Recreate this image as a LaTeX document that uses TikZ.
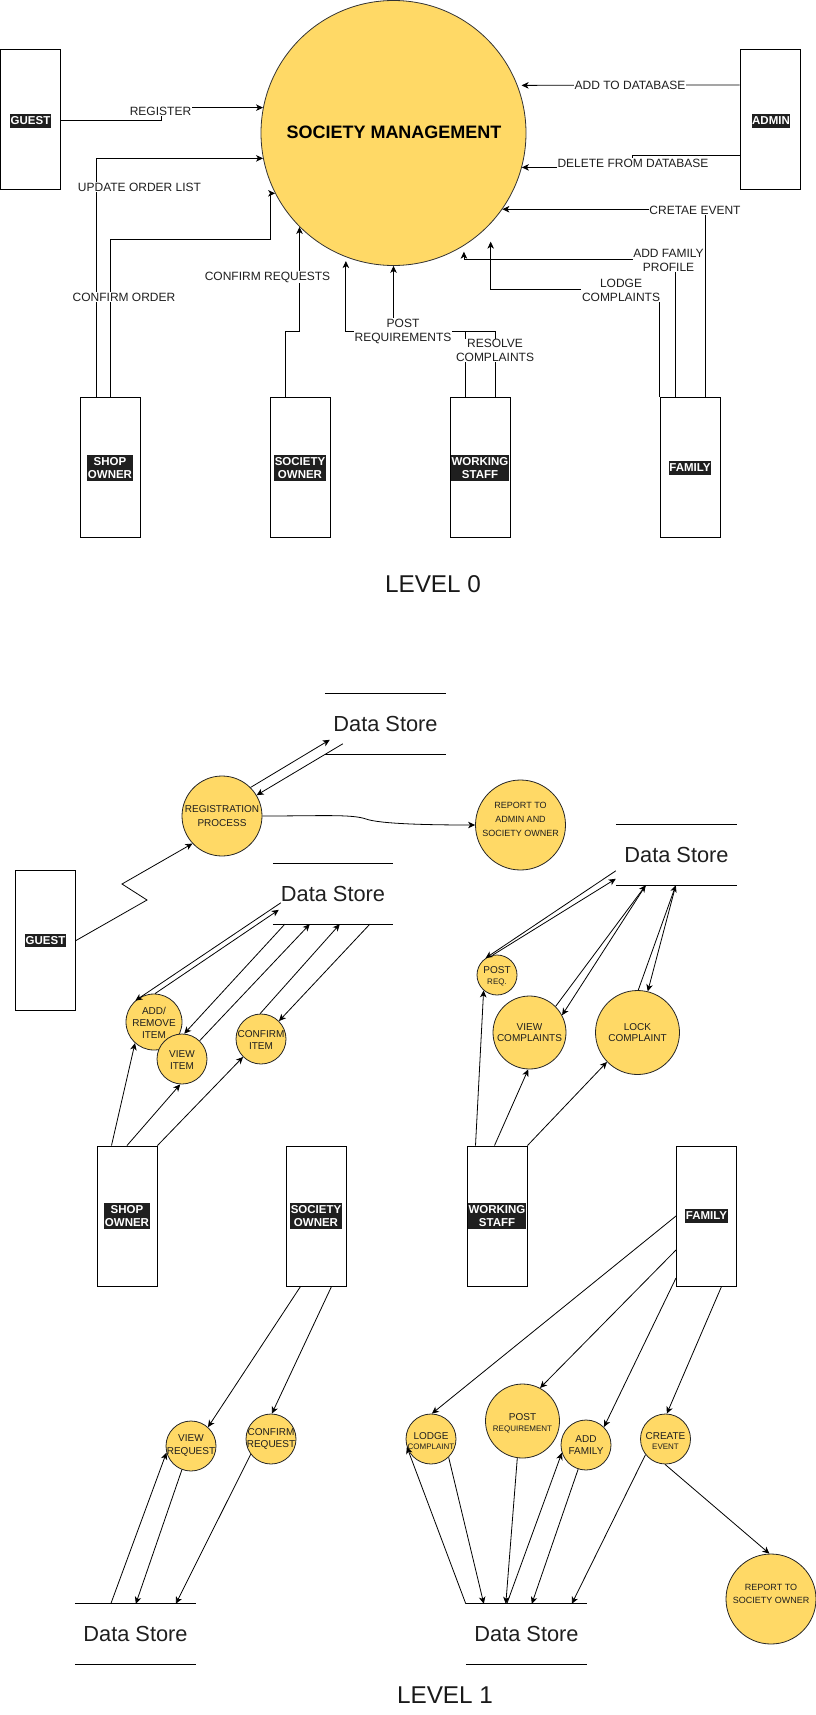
\documentclass[tikz,border=0pt]{standalone}
\usepackage{fontspec}
\setmainfont{Liberation Sans}
\usetikzlibrary{arrows.meta,calc}
\definecolor{procyellow}{HTML}{FFD966}
\definecolor{txtgray}{HTML}{1F1F1F}
\begin{document}
\begin{tikzpicture}[x=1pt,y=-1pt,
  every node/.style={font=\fontsize{12}{14}\selectfont},
  ent/.style={draw, line width=1pt, minimum width=60pt, minimum height=140pt, inner sep=0pt},
  hl/.style={fill=black!88, text=white, inner xsep=0.6pt, inner ysep=2.6pt, align=center, font=\bfseries\fontsize{11.5}{13.5}\selectfont},
  proc/.style={circle, draw=black!85, line width=0.8pt, fill=procyellow, inner sep=0pt},
  ptext/.style={text=txtgray, align=center, inner sep=0pt, font=\fontsize{10}{12}\selectfont},
  lbl/.style={fill=white, inner sep=0.6pt, text=txtgray, align=center, font=\fontsize{12}{14}\selectfont},
  arr/.style={line width=0.8pt, -{Stealth[length=7pt,width=6.5pt,inset=2pt]}},
  ln/.style={line width=0.9pt},
  dstore/.style={minimum width=121pt, minimum height=60pt, inner sep=0pt, text=black!88, font=\fontsize{21.8}{24}\selectfont},
  lvl/.style={inner sep=0pt, text=black!90, font=\fontsize{24.3}{26}\selectfont},
]
\useasboundingbox (0,0) rectangle (816,1715);

% ================= LEVEL 0 =================
\node[circle, draw=black!80, line width=0.8pt, fill=procyellow, minimum size=265pt, inner sep=0pt] (sm) at (393.5,133) {};
\node[inner sep=0pt, font=\bfseries\fontsize{18}{20}\selectfont] (smt) at (394,132) {SOCIETY MANAGEMENT};

\node[ent] (guest0) at (30.5,120) {};
\node[hl] (guest0t) at (30.5,121) {GUEST};
\node[ent] (admin0) at (770,120) {};
\node[hl] (admin0t) at (771,121) {ADMIN};
\node[ent] (shop0) at (110,467) {};
\node[hl] (shop0t) at (110,468) {SHOP\\OWNER};
\node[ent] (soc0) at (300,467) {};
\node[hl] (soc0t) at (300,468) {SOCIETY\\OWNER};
\node[ent] (staff0) at (480,467) {};
\node[hl] (staff0t) at (480,468) {WORKING\\STAFF};
\node[ent] (fam0) at (690,467) {};
\node[hl] (fam0t) at (690,468) {FAMILY};

\draw[arr] (guest0.east) -- ++(100,0) |- (sm.169);
\draw[arr] ([xshift=-14pt]shop0.north) |- (sm.191);
\draw[arr] (shop0.north) -- ++(0,-157) -- ++(160,0) |- (sm.207);
\draw[arr] ([xshift=-15pt]soc0.north) -- ++(0,-65) -| (sm.225);
\draw[arr] ([xshift=-15pt]staff0.north) -- ++(0,-65) -| ([yshift=-4pt]sm.249);
\draw[arr] ([xshift=15pt]staff0.north) -- ++(0,-65) -| (sm.south);
\draw[arr] ([yshift=35pt]admin0.west) -- ([xshift=4pt]sm.21);
\draw[arr] ([yshift=-35pt]admin0.west) -- ++(-107,0) |- (sm.345);
\draw[arr] ([xshift=15pt]fam0.north) |- (sm.325);
\draw[arr] ([xshift=-15pt]fam0.north) -- ++(0,-137) -| ([yshift=-6pt]sm.302);
\draw[arr] (fam0.north west) -- ++(0,-107) -| ([yshift=-18pt]sm.317);

\node[lbl] (l0a) at (160.5,111.5) {REGISTER};
\node[lbl] (l0b) at (139.5,187) {UPDATE ORDER LIST};
\node[lbl] (l0c) at (124,297) {CONFIRM ORDER};
\node[lbl] (l0d) at (267.5,277) {CONFIRM REQUESTS};
\node[lbl] (l0e) at (403,331) {POST\\REQUIREMENTS};
\node[lbl] (l0f) at (495,350.5) {RESOLVE\\COMPLAINTS};
\node[lbl] (l0g) at (630,85) {ADD TO DATABASE};
\node[lbl] (l0h) at (633,163) {DELETE FROM DATABASE};
\node[lbl] (l0i) at (695,210.5) {CRETAE EVENT};
\node[lbl] (l0j) at (668.5,260) {ADD FAMILY\\PROFILE};
\node[lbl] (l0k) at (621,290) {LODGE\\COMPLAINTS};

\node[lvl] (lev0) at (433,584) {LEVEL 0};

% ================= LEVEL 1 =================
% data stores
\node[dstore] (ds1) at (385.5,724) {Data Store};
\node[dstore, minimum width=120pt] (ds2) at (333,894) {Data Store};
\node[dstore] (ds3) at (676.5,855) {Data Store};
\node[dstore] (ds4) at (135.5,1634) {Data Store};
\node[dstore] (ds5) at (526.5,1634) {Data Store};
\foreach \d in {ds1,ds2,ds3,ds4,ds5}{
  \draw[ln] (\d.north west) -- (\d.north east);
  \draw[ln] (\d.south west) -- (\d.south east);
}

% entities
\node[ent] (guest1) at (45.5,940.5) {};
\node[hl] (guest1t) at (45.5,940.5) {GUEST};
\node[ent] (shop1) at (127,1216) {};
\node[hl] (shop1t) at (127,1216) {SHOP\\OWNER};
\node[ent] (soc1) at (316,1216) {};
\node[hl] (soc1t) at (316,1216) {SOCIETY\\OWNER};
\node[ent] (staff1) at (497,1216) {};
\node[hl] (staff1t) at (497,1216) {WORKING\\STAFF};
\node[ent] (fam1) at (706.5,1216) {};
\node[hl] (fam1t) at (706.5,1216) {FAMILY};

% processes
\node[proc, minimum size=80pt] (reg) at (222,816) {};
\node[ptext, font=\fontsize{10}{14}\selectfont] (regt) at (222,816) {REGISTRATION\\PROCESS};
\node[proc, minimum size=90pt] (rep1) at (520.5,825) {};
\node[ptext, font=\fontsize{9}{13.7}\selectfont] (rep1t) at (520.5,819.5) {REPORT TO\\ADMIN AND\\SOCIETY OWNER};
\node[proc, minimum size=56pt] (addrem) at (154,1022) {};
\node[ptext] (addremt) at (154,1023) {ADD/\\REMOVE\\ITEM};
\node[proc, minimum size=50pt] (viewitem) at (182,1059) {};
\node[ptext] (viewitemt) at (182,1060) {VIEW\\ITEM};
\node[proc, minimum size=50pt] (confitem) at (261,1039) {};
\node[ptext] (confitemt) at (261,1040) {CONFIRM\\ITEM};
\node[proc, minimum size=40pt] (postreq) at (497,975) {};
\node[ptext, font=\fontsize{10}{10.5}\selectfont] (postreqt) at (497,976.5) {POST\\{\fontsize{8}{9}\selectfont REQ.}};
\node[proc, minimum size=73pt] (viewcomp) at (529.5,1032.5) {};
\node[ptext, font=\fontsize{10}{11.7}\selectfont] (viewcompt) at (529.5,1032.5) {VIEW\\COMPLAINTS};
\node[proc, minimum size=84pt] (lockcomp) at (637.5,1032.5) {};
\node[ptext, font=\fontsize{10}{11.7}\selectfont] (lockcompt) at (637.5,1032.5) {LOCK\\COMPLAINT};
\node[proc, minimum size=50pt] (viewreq) at (191,1446) {};
\node[ptext, font=\fontsize{10}{13}\selectfont] (viewreqt) at (191,1445.5) {VIEW\\REQUEST};
\node[proc, minimum size=50pt] (confreq) at (271,1439) {};
\node[ptext] (confreqt) at (271,1439) {CONFIRM\\REQUEST};
\node[proc, minimum size=50pt] (lodge) at (431,1439) {};
\node[ptext, font=\fontsize{10}{10.5}\selectfont] (lodget) at (431,1441) {LODGE\\{\fontsize{8}{9}\selectfont COMPLAINT}};
\node[proc, minimum size=74pt] (postreqm) at (522.5,1421) {};
\node[ptext, font=\fontsize{10}{10.5}\selectfont] (postreqmt) at (522.5,1423) {POST\\{\fontsize{8}{9}\selectfont REQUIREMENT}};
\node[proc, minimum size=50pt] (addfam) at (586,1445) {};
\node[ptext] (addfamt) at (586,1445) {ADD\\FAMILY};
\node[proc, minimum size=50pt] (create) at (665.5,1439) {};
\node[ptext, font=\fontsize{10}{10.5}\selectfont] (createt) at (665.5,1441) {CREATE\\{\fontsize{8}{9}\selectfont EVENT}};
\node[proc, minimum size=90pt] (rep2) at (771,1599) {};
\node[ptext, font=\fontsize{9}{13}\selectfont] (rep2t) at (771,1593.5) {REPORT TO\\SOCIETY OWNER};

% registration flows
\draw[arr] (reg.45) -- ([xshift=5pt,yshift=-46pt]ds1.north west);
\draw[arr] ([xshift=18pt,yshift=-50pt]ds1.north west) -- (reg.31);
\draw[arr] (reg.east) .. controls (320,816) and (352,814) .. (366,819) .. controls (380,824) and (430,825) .. (rep1.west);
\draw[arr] (guest1.east) -- ++(71,-40.5) -- ++(-25,-16) -- (reg.223);

% shop owner flows
\draw[arr] ([xshift=8pt,yshift=-39pt]ds2.north west) -- (addrem.131);
\draw[arr] (addrem.88) -- ([xshift=6pt,yshift=-46pt]ds2.north west);
\draw[arr] ([xshift=12pt]ds2.south west) -- (viewitem.85);
\draw[arr] (viewitem.46) -- ([xshift=37pt]ds2.south west);
\draw[arr] (confitem.92) -- ([xshift=67pt]ds2.south west);
\draw[arr] ([xshift=97pt]ds2.south west) -- (confitem.45);
\draw[arr] ([xshift=15pt]shop1.north west) -- (addrem.228);
\draw[arr] (shop1.north) -- (viewitem.266);
\draw[arr] (shop1.north east) -- (confitem.225);

% working staff flows
\draw[arr] ([yshift=-46pt]ds3.north west) -- (postreq.124);
\draw[arr] (postreq.102) -- ([yshift=-54pt]ds3.north west);
\draw[arr] (viewcomp.45) -- ([xshift=30pt]ds3.south west);
\draw[arr] ([xshift=30pt]ds3.south west) -- (viewcomp.28);
\draw[arr] (lockcomp.89) -- ([xshift=60pt]ds3.south west);
\draw[arr] ([xshift=60pt]ds3.south west) -- (lockcomp.76);
\draw[arr] ([xshift=9pt]staff1.north west) -- (postreq.229);
\draw[arr] ([xshift=28pt]staff1.north west) -- (viewcomp.268);
\draw[arr] (staff1.north east) -- (lockcomp.224);

% society owner flows
\draw[arr] ([xshift=15pt]soc1.south west) -- (viewreq.48);
\draw[arr] ([xshift=46pt]soc1.south west) -- (confreq.88);
\draw[arr] ([xshift=36pt]ds4.north west) -- (viewreq.195);
\draw[arr] (viewreq.249) -- ([xshift=61pt]ds4.north west);
\draw[arr] (confreq.217) -- ([xshift=101pt]ds4.north west);

% family flows
\draw[arr] (fam1.west) -- (lodge.88);
\draw[arr] ([yshift=-34pt]fam1.west) -- (postreqm.62);
\draw[arr] ([yshift=-62pt]fam1.west) -- (addfam.45);
\draw[arr] ([xshift=-15.5pt]fam1.south east) -- (create.87);
\draw[arr] (create.269) -- (rep2.92);
\draw[arr] (ds5.north west) -- (lodge.198);
\draw[arr] (lodge.314) -- ([xshift=18pt]ds5.north west);
\draw[arr] (postreqm.262) -- ([xshift=40pt]ds5.north west);
\draw[arr] ([xshift=41pt]ds5.north west) -- (addfam.198);
\draw[arr] (addfam.252) -- ([xshift=66pt]ds5.north west);
\draw[arr] (create.218) -- ([xshift=106pt]ds5.north west);

\node[lvl] (lev1) at (445,1695) {LEVEL 1};
\end{tikzpicture}
\end{document}
